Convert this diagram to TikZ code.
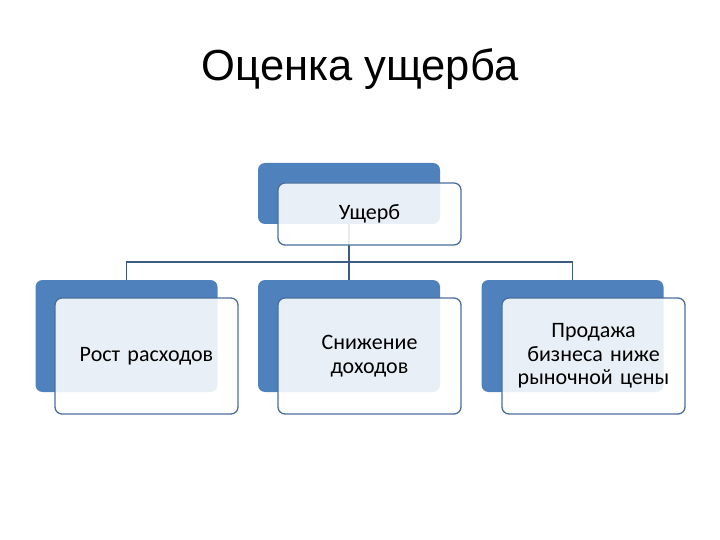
\documentclass[tikz,border=0pt]{standalone}
\usepackage{fontspec}
\setmainfont{Liberation Sans}
\newfontfamily\boxfont{Carlito}
\usepackage{xcolor}
\definecolor{cBack}{HTML}{4F81BD}
\definecolor{cEdge}{HTML}{4A6F9C}
\definecolor{cLink}{HTML}{3C5B82}
\usepackage{tikz}
\usetikzlibrary{positioning}

\begin{document}
\begin{tikzpicture}[x=1pt,y=-1pt,
  backb/.style={fill=cBack,draw=none,rounded corners=7pt,minimum width=182pt},
  frontb/.style={draw=cEdge,line width=1.3pt,fill=white,fill opacity=0.88,text opacity=1,
    rounded corners=7pt,minimum width=183pt,text width=176pt,align=center,
    font=\boxfont\fontsize{22}{23.5}\selectfont},
  link/.style={cLink,line width=1.1pt}]
\useasboundingbox (0,0) rectangle (720,540);
\node[font=\fontsize{43.5}{50}\selectfont] (title) at (360,69) {Оценка ущерба};
% back tiles
\node[backb,minimum height=61pt] (topb) at (349,193.5) {};
\node[backb,minimum height=112pt] (leftb) at (126.5,336) {};
\node[backb,minimum height=112pt] (midb) at (349,336) {};
\node[backb,minimum height=112pt] (rightb) at (572.5,336) {};
% tree links
\coordinate (bar) at (349,262);
\draw[link] (topb.south) -- (bar);
\draw[link] (bar) -| (leftb.north);
\draw[link] (bar) -- (midb.north);
\draw[link] (bar) -| (rightb.north);
% front cards
\node[frontb,minimum height=62pt] (top) at (369.5,214) {Ущерб};
\node[frontb,minimum height=116pt] (left) at (146.5,356) {Рост расходов};
\node[frontb,minimum height=116pt] (mid) at (369.5,356) {Снижение\\доходов};
\node[frontb,minimum height=116pt] (right) at (593.5,356) {Продажа\\бизнеса ниже\\рыночной цены};
\end{tikzpicture}
\end{document}
